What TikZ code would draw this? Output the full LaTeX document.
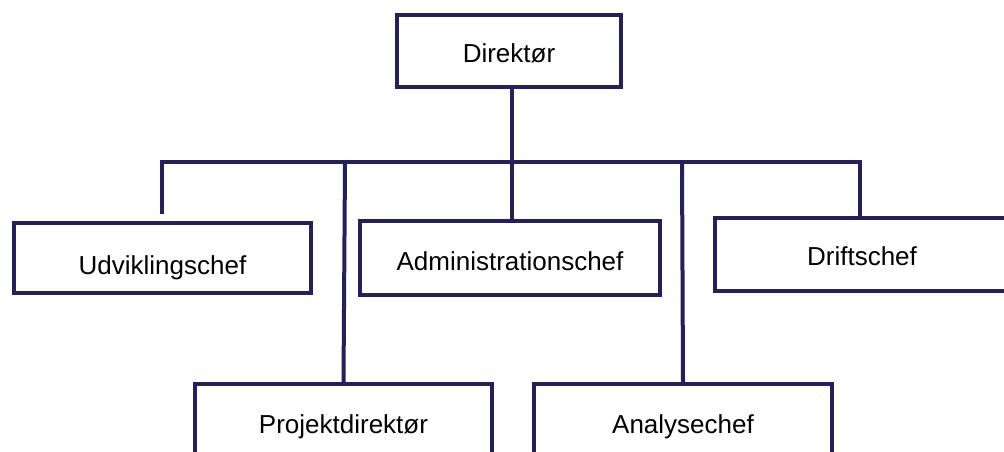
\documentclass[tikz,border=0pt]{standalone}
\usepackage{fontspec}
\setmainfont{Liberation Sans}
\definecolor{navy}{RGB}{37,31,92}
\begin{document}
\begin{tikzpicture}[x=1pt,y=-1pt,
  box/.style={draw=navy, line width=4pt, fill=white, inner sep=0pt,
    font=\fontsize{26}{30}\selectfont, text height=#1, text depth=0pt},
  box/.default=24pt,
  wire/.style={draw=navy, line width=4pt}]
\clip (0,0) rectangle (1004,452);
\fill[white] (0,0) rectangle (1004,452);

% org chart boxes
\node[box, minimum width=224pt, minimum height=72pt] (dir) at (509,51) {Direktør};
\node[box=32pt, minimum width=297pt, minimum height=70pt] (udv) at (162.5,258) {Udviklingschef};
\node[box, minimum width=300pt, minimum height=74pt] (adm) at (510,258) {Administrationschef};
\node[box=21pt, minimum width=294pt, minimum height=73pt] (drift) at (862,254.5) {Driftschef};
\node[box, minimum width=297pt, minimum height=74pt] (proj) at (343.5,421) {Projektdirektør};
\node[box, minimum width=298pt, minimum height=74pt] (ana) at (683,421) {Analysechef};

% connectors
\coordinate (busL) at (162,162);
\coordinate (busR) at (860,162);
\coordinate (tapP) at (345,162);
\coordinate (tapA) at (682,162);
\draw[wire] ([xshift=2.5pt]dir.south) -- ([xshift=2.5pt]dir.south |- adm.north);
\draw[wire] ([yshift=7pt]busL |- udv.north) -- (busL) -- (busR) -- (busR |- drift.north);
\draw[wire] (tapP) -- (proj.north);
\draw[wire] (tapA) -- (ana.north);
\end{tikzpicture}
\end{document}
